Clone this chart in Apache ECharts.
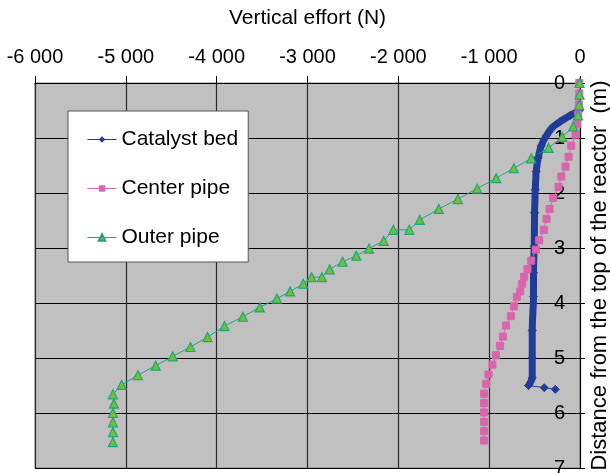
<!DOCTYPE html>
<html>
<head>
<meta charset="utf-8">
<script src="https://cdn.jsdelivr.net/npm/echarts@6/dist/echarts.min.js"></script>
<style>
  html, body { margin: 0; padding: 0; background: #ffffff; }
  #chart { width: 610px; height: 473px; }
</style>
</head>
<body>
<div id="chart"></div>
<script>
// Vertical effort (N) against depth below the reactor top (m)
const effortTicks = [-6000, -5000, -4000, -3000, -2000, -1000, 0];
const depthTicks = [0, 1, 2, 3, 4, 5, 6, 7];

// Catalyst bed: main profile and the short tail at the bottom
const bedDepth = [0.50, 0.59, 0.70, 0.81, 0.96, 1.14, 1.36, 1.61, 1.94, 2.36, 2.97, 3.45, 3.88, 4.50, 5.00, 5.36, 5.50];
const bedEffort = [-8, -107, -217, -305, -371, -427, -460, -482, -492, -500, -504, -512, -512, -526, -526, -526, -567];
const bedTailDepth = [5.50, 5.54, 5.57];
const bedTailEffort = [-567, -394, -272];

// Center pipe
const centerDepth = [0, 0.19, 0.39, 0.57, 0.75, 0.94, 1.14, 1.34, 1.52, 1.70, 1.89, 2.09, 2.29, 2.47, 2.67, 2.86, 3.03, 3.23, 3.38, 3.52, 3.65, 3.79, 3.89, 4.06, 4.24, 4.41, 4.61, 4.78, 4.95, 5.12, 5.30, 5.47, 5.65, 5.82, 5.99, 6.16, 6.33, 6.50];
const centerEffort = [-8, -8, -13, -19, -30, -48, -96, -126, -159, -206, -236, -294, -335, -368, -397, -449, -485, -537, -578, -614, -636, -658, -695, -728, -761, -813, -849, -879, -926, -964, -1008, -1033, -1055, -1055, -1055, -1055, -1055, -1055];

// Outer pipe
const outerDepth = [0, 0.21, 0.40, 0.59, 0.79, 0.98, 1.18, 1.37, 1.55, 1.73, 1.92, 2.11, 2.29, 2.49, 2.67, 2.67, 2.87, 3.01, 3.14, 3.25, 3.39, 3.53, 3.53, 3.65, 3.79, 3.92, 4.08, 4.25, 4.42, 4.62, 4.80, 4.97, 5.14, 5.31, 5.49, 5.66, 5.83, 6.00, 6.17, 6.35, 6.53];
const outerEffort = [-5, -5, -10, -22, -75, -195, -346, -537, -728, -923, -1132, -1345, -1555, -1764, -1879, -2055, -2161, -2323, -2463, -2613, -2756, -2841, -2955, -3047, -3191, -3337, -3525, -3712, -3914, -4101, -4289, -4484, -4671, -4867, -5046, -5142, -5131, -5142, -5142, -5142, -5142];

const pairs = (xs, ys) => xs.map((x, i) => [x, ys[i]]);

const FONT = 'Liberation Sans, Arial, Helvetica, sans-serif';
const BLUE = '#203c96';
const PINK = '#d865ad';
const GREEN_LINE = '#1fa57a';
const GREEN_FILL = '#74bf3a';

function fmtThousands(v) {
  const s = String(Math.abs(v));
  const body = s.length > 3 ? s.slice(0, s.length - 3) + ' ' + s.slice(-3) : s;
  return (v < 0 ? '-' : '') + body;
}

const chart = echarts.init(document.getElementById('chart'), null, { renderer: 'canvas' });

chart.setOption({
  animation: false,
  backgroundColor: '#ffffff',
  textStyle: { fontFamily: FONT },
  grid: {
    left: 35, right: 30, top: 83, bottom: 5,
    containLabel: false,
    outerBoundsMode: 'none',
    show: true,
    backgroundColor: '#c0c0c0',
    borderColor: '#808080',
    borderWidth: 1
  },
  legend: {
    data: ['Catalyst bed', 'Center pipe', 'Outer pipe'],
    orient: 'vertical',
    left: 68, top: 111,
    padding: [18, 10, 14, 19],
    itemGap: 28,
    itemWidth: 29,
    itemHeight: 8,
    backgroundColor: '#ffffff',
    borderColor: '#555555',
    borderWidth: 1,
    textStyle: { fontFamily: FONT, fontSize: 21, color: '#000000' },
    lineStyle: { width: 1 }
  },
  xAxis: {
    type: 'value',
    position: 'top',
    min: effortTicks[0],
    max: effortTicks[effortTicks.length - 1],
    interval: 1000,
    name: 'Vertical effort (N)',
    nameLocation: 'middle',
    nameGap: 54,
    nameTextStyle: { fontFamily: FONT, fontSize: 21, color: '#000000' },
    axisLine: { show: true, onZero: false, lineStyle: { color: '#000000', width: 1 } },
    axisTick: { show: true, inside: false, length: 7, lineStyle: { color: '#000000' } },
    axisLabel: {
      margin: 16,
      fontFamily: FONT, fontSize: 20, color: '#000000',
      formatter: fmtThousands
    },
    splitLine: { show: true, lineStyle: { color: '#2a2a2a', width: 1.2 } }
  },
  yAxis: {
    type: 'value',
    position: 'right',
    inverse: true,
    min: depthTicks[0],
    max: depthTicks[depthTicks.length - 1],
    interval: 1,
    name: 'Distance from the top of the reactor  (m)',
    nameLocation: 'middle',
    nameRotate: 90,
    nameGap: 5,
    nameTextStyle: { fontFamily: FONT, fontSize: 22, color: '#000000' },
    axisLine: { show: true, onZero: false, lineStyle: { color: '#000000', width: 1 } },
    axisTick: { show: true, inside: false, length: 5, lineStyle: { color: '#000000' } },
    axisLabel: {
      inside: true,
      margin: 15,
      fontFamily: FONT, fontSize: 20, color: '#000000'
    },
    splitLine: { show: true, lineStyle: { color: '#000000', width: 1.2 } }
  },
  series: [
    {
      name: 'Catalyst bed',
      type: 'line',
      data: pairs(bedTailEffort, bedTailDepth),
      symbol: 'diamond',
      symbolSize: 8,
      showAllSymbol: true,
      lineStyle: { color: BLUE, width: 1 },
      itemStyle: { color: BLUE, borderColor: BLUE },
      silent: true
    },
    {
      name: 'Catalyst bed',
      type: 'line',
      data: pairs(bedEffort, bedDepth),
      symbol: 'diamond',
      symbolSize: 8,
      showAllSymbol: true,
      smooth: 0.3,
      lineStyle: { color: BLUE, width: 7 },
      itemStyle: { color: BLUE, borderColor: BLUE },
      silent: true
    },
    {
      name: 'Center pipe',
      type: 'line',
      data: pairs(centerEffort, centerDepth),
      symbol: 'rect',
      symbolSize: 7,
      showAllSymbol: true,
      lineStyle: { color: PINK, width: 1 },
      itemStyle: { color: PINK, borderColor: PINK },
      silent: true
    },
    {
      name: 'Outer pipe',
      type: 'line',
      data: pairs(outerEffort, outerDepth),
      symbol: 'triangle',
      symbolSize: 9,
      showAllSymbol: true,
      lineStyle: { color: GREEN_LINE, width: 1 },
      itemStyle: { color: GREEN_FILL, borderColor: GREEN_LINE, borderWidth: 1.2 },
      silent: true
    }
  ]
});
</script>
</body>
</html>
